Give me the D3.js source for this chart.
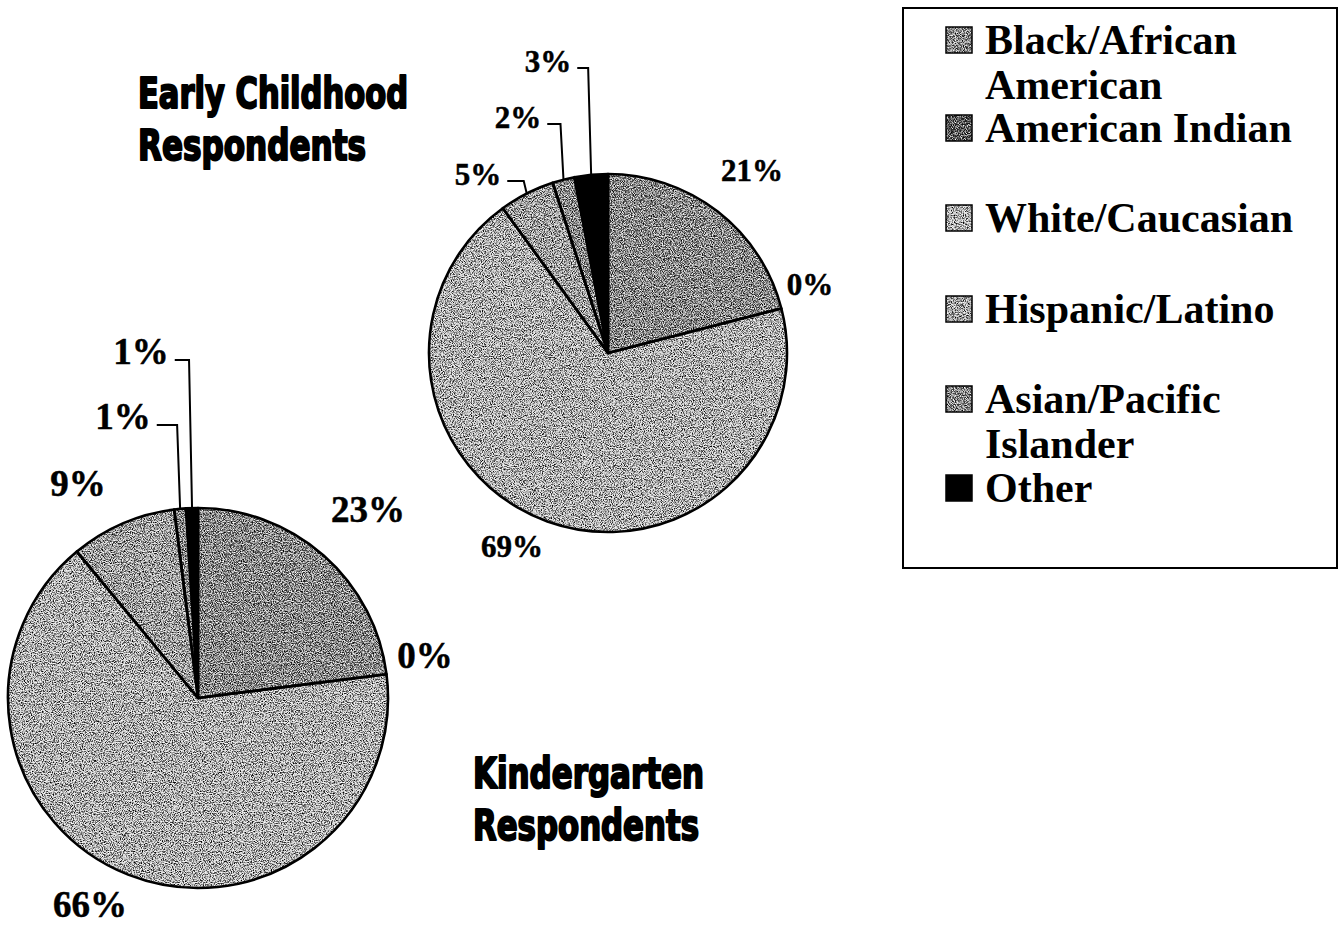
<!DOCTYPE html>
<html>
<head>
<meta charset="utf-8">
<script src="https://cdn.jsdelivr.net/npm/d3@7"></script>
<style>
  html, body { margin: 0; padding: 0; background: #fff; }
  svg { display: block; }
</style>
</head>
<body>
<script>
// Respondent ethnicity, two survey groups
const categories = ["Black/African American", "American Indian", "White/Caucasian",
                    "Hispanic/Latino", "Asian/Pacific Islander", "Other"];
const legendLines = [["Black/African", "American"], ["American Indian"], ["White/Caucasian"],
                     ["Hispanic/Latino"], ["Asian/Pacific", "Islander"], ["Other"]];
const earlyChildhood = [21, 0, 69, 5, 2, 3];
const kindergarten = [23, 0, 66, 9, 1, 1];
const earlyTitle = ["Early Childhood", "Respondents"];
const kinderTitle = ["Kindergarten", "Respondents"];

// Styling
const fills = ["#8c8c8c", "#444444", "#c3c3c3", "#adadad", "#8a8a8a", "#000000"];

// Label placement (offsets from each pie centre, at the text baseline)
const earlyLabelOffsets = [[144, -172], [202, -58], [-96, 204], [-130, -168], [-90, -225], [-60, -281]];
const earlyLeaders = [false, false, false, true, true, true];
const kinderLabelOffsets = [[170, -176], [227, -30], [-108, 219], [-120, -202], [-75, -269], [-57, -334]];
const kinderLeaders = [false, false, false, false, true, true];

const W = 1338, H = 925;
const svg = d3.select("body").append("svg").attr("width", W).attr("height", H);
svg.append("rect").attr("width", W).attr("height", H).attr("fill", "#fff");

// Grainy halftone texture used on the shaded fills
const defs = svg.append("defs");
const f = defs.append("filter").attr("id", "grain")
  .attr("color-interpolation-filters", "sRGB");
f.append("feTurbulence").attr("type", "fractalNoise").attr("baseFrequency", 0.9)
  .attr("numOctaves", 2).attr("seed", 7).attr("result", "noise");
f.append("feColorMatrix").attr("in", "noise").attr("type", "matrix")
  .attr("values", "0 0 0 0 0  0 0 0 0 0  0 0 0 0 0  3 0 0 0 -1.35").attr("result", "darkA");
f.append("feColorMatrix").attr("in", "noise").attr("type", "matrix")
  .attr("values", "0 0 0 0 1  0 0 0 0 1  0 0 0 0 1  -3 0 0 0 1.65").attr("result", "lightA");
f.append("feComposite").attr("in", "darkA").attr("in2", "SourceAlpha").attr("operator", "in").attr("result", "dark");
f.append("feComposite").attr("in", "lightA").attr("in2", "SourceAlpha").attr("operator", "in").attr("result", "light");
const merge = f.append("feMerge");
merge.append("feMergeNode").attr("in", "SourceGraphic");
merge.append("feMergeNode").attr("in", "dark");
merge.append("feMergeNode").attr("in", "light");

const serif = "'Liberation Serif', 'Times New Roman', serif";
const condensed = "'DejaVu Sans Condensed', 'Liberation Sans Narrow', sans-serif";

function drawPie(values, cx, cy, r, fontSize, offsets, leaders) {
  const pie = d3.pie().sort(null).value(d => d);
  const arcs = pie(values);
  const arc = d3.arc().innerRadius(0).outerRadius(r);
  const g = svg.append("g").attr("transform", `translate(${cx},${cy})`);

  const shown = arcs.filter(a => a.value > 0);
  g.selectAll("path.slice").data(shown).join("path")
    .attr("class", "slice")
    .attr("d", arc)
    .attr("fill", d => fills[d.index])
    .attr("filter", d => fills[d.index] === "#000000" ? null : "url(#grain)");

  g.selectAll("path.edge").data(shown).join("path")
    .attr("class", "edge")
    .attr("d", arc)
    .attr("fill", "none")
    .attr("stroke", "#000")
    .attr("stroke-width", 2.6)
    .attr("stroke-linejoin", "round");

  const labels = g.selectAll("text.pct").data(arcs).join("text")
    .attr("class", "pct")
    .attr("x", d => offsets[d.index][0])
    .attr("y", d => offsets[d.index][1])
    .attr("text-anchor", "middle")
    .attr("font-family", serif)
    .attr("font-weight", "bold")
    .attr("font-size", fontSize)
    .attr("fill", "#000")
    .attr("stroke", "#000")
    .attr("stroke-width", 0.5)
    .text(d => d.value + "%");

  // Leader lines for the thin slices: short horizontal run, then down to the rim
  labels.each(function (d) {
    if (!leaders[d.index]) return;
    const w = this.getComputedTextLength();
    const [lx, ly] = offsets[d.index];
    const sx = lx + w / 2 + 6, sy = ly - 4;
    const mid = (d.startAngle + d.endAngle) / 2;
    const ex = Math.sin(mid) * r, ey = -Math.cos(mid) * r;
    const kx = ex - 3;
    g.append("path")
      .attr("d", `M${sx},${sy}H${kx}L${ex},${ey}`)
      .attr("fill", "none")
      .attr("stroke", "#000")
      .attr("stroke-width", 2);
  });
}

drawPie(earlyChildhood, 608, 353, 179, 31, earlyLabelOffsets, earlyLeaders);
drawPie(kindergarten, 198, 698, 190, 37, kinderLabelOffsets, kinderLeaders);

// Group titles
function drawTitle(lines, x, y0, lengths) {
  svg.append("g").selectAll("text").data(lines).join("text")
    .attr("x", x)
    .attr("y", (d, i) => y0 + i * 52)
    .attr("font-family", condensed)
    .attr("font-weight", "bold")
    .attr("font-size", 42)
    .attr("fill", "#000")
    .attr("stroke", "#000")
    .attr("stroke-width", 2)
    .attr("stroke-linejoin", "round")
    .attr("textLength", (d, i) => lengths[i])
    .attr("lengthAdjust", "spacingAndGlyphs")
    .text(d => d);
}
drawTitle(earlyTitle, 138, 108, [270, 228]);
drawTitle(kinderTitle, 473, 788, [231, 226]);

// Legend
const legend = svg.append("g");
legend.append("rect")
  .attr("x", 903).attr("y", 8).attr("width", 434).attr("height", 560)
  .attr("fill", "#fff").attr("stroke", "#000").attr("stroke-width", 2);

const legendBaselines = [54, 142, 232, 323, 413, 502];
const entries = legend.selectAll("g.entry").data(categories).join("g").attr("class", "entry");
entries.append("rect")
  .attr("x", 946)
  .attr("y", (d, i) => legendBaselines[i] - 27)
  .attr("width", 26).attr("height", 26)
  .attr("fill", (d, i) => fills[i])
  .attr("filter", (d, i) => fills[i] === "#000000" ? null : "url(#grain)");
entries.append("rect")
  .attr("x", 946)
  .attr("y", (d, i) => legendBaselines[i] - 27)
  .attr("width", 26).attr("height", 26)
  .attr("fill", "none").attr("stroke", "#000").attr("stroke-width", 1.5);
entries.append("text")
  .attr("x", 985)
  .attr("y", (d, i) => legendBaselines[i])
  .attr("font-family", serif)
  .attr("font-weight", "bold")
  .attr("font-size", 42)
  .attr("fill", "#000")
  .selectAll("tspan").data((d, i) => legendLines[i]).join("tspan")
  .attr("x", 985)
  .attr("dy", (d, j) => j === 0 ? 0 : 45)
  .text(d => d);
</script>
</body>
</html>
